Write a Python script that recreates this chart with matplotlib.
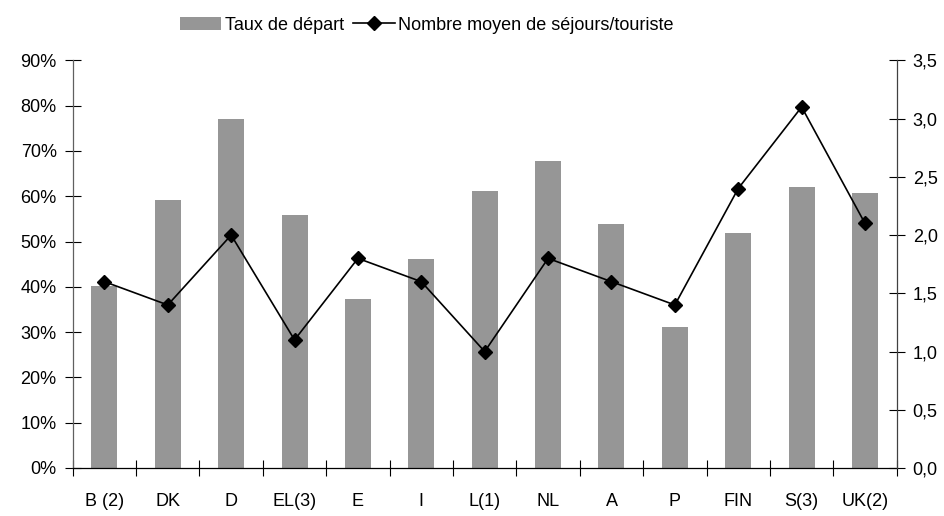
import matplotlib.pyplot as plt
import numpy as np

pays = ['B (2)', 'DK', 'D', 'EL(3)', 'E', 'I', 'L(1)', 'NL', 'A', 'P', 'FIN', 'S(3)', 'UK(2)']
taux_depart = [40.2, 59.2, 77.0, 55.8, 37.3, 46.1, 61.2, 67.8, 53.9, 31.1, 51.9, 62.0, 60.7]
sejours = [1.6, 1.4, 2.0, 1.1, 1.8, 1.6, 1.0, 1.8, 1.6, 1.4, 2.4, 3.1, 2.1]
gauche_ticks = list(range(0, 100, 10))
droite_ticks = [0.0, 0.5, 1.0, 1.5, 2.0, 2.5, 3.0, 3.5]

plt.rcParams['font.family'] = ['Liberation Sans', 'DejaVu Sans']
plt.rcParams['font.size'] = 13

fig = plt.figure(figsize=(9.44, 5.16), dpi=100)
ax = fig.add_axes([72.7 / 944, 1 - 468 / 516, (896.7 - 72.7) / 944, (468 - 60.4) / 516])
ax2 = ax.twinx()

x = np.arange(len(pays))
barres = ax.bar(x, taux_depart, width=0.41, color='#969696', label='Taux de départ', zorder=1)
ligne, = ax2.plot(x, sejours, color='black', lw=1.2, marker='D', markersize=7.5,
                  label='Nombre moyen de séjours/touriste')

ax.set_xlim(-0.5, len(pays) - 0.5)
ax.set_ylim(0, 90)
ax2.set_ylim(0, 3.5)

ax.set_yticks(gauche_ticks)
ax.set_yticklabels([f'{v}%' for v in gauche_ticks])
ax2.set_yticks(droite_ticks)
ax2.set_yticklabels([f'{v:.1f}'.replace('.', ',') for v in droite_ticks])

ax.set_xticks(x)
ax.set_xticklabels(pays)
ax.set_xticks(np.arange(len(pays) + 1) - 0.5, minor=True)
ax.tick_params(axis='x', which='major', length=0, pad=18)
ax.tick_params(axis='x', which='minor', length=11, direction='inout', width=0.8)
ax.tick_params(axis='y', length=11, direction='inout', width=0.8, pad=6)
ax2.tick_params(axis='y', length=11, direction='inout', width=0.8, pad=6)

for a in (ax, ax2):
    a.spines['top'].set_visible(False)
ax.spines['right'].set_visible(False)
ax2.spines['left'].set_visible(False)
ax2.spines['bottom'].set_visible(False)
ax.spines['left'].set_color('#606060')
ax2.spines['right'].set_color('#404040')
for s in ['left', 'bottom']:
    ax.spines[s].set_linewidth(0.9)
ax2.spines['right'].set_linewidth(0.9)

fig.legend([barres, ligne], ['Taux de départ', 'Nombre moyen de séjours/touriste'],
           loc='center', bbox_to_anchor=(0.452, 1 - 25 / 516), ncol=2, frameon=False,
           handlelength=2.3, handletextpad=0.2, columnspacing=0.5, fontsize=13)

fig.savefig('out.png', dpi=100)
